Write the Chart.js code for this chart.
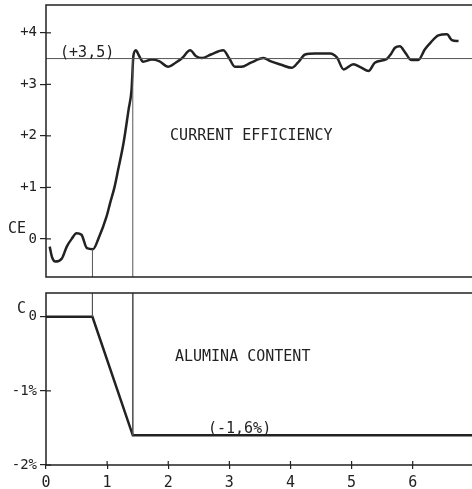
<!DOCTYPE html>
<html>
<head>
<meta charset="utf-8">
<script src="https://cdn.jsdelivr.net/npm/chart.js@4.4.1/dist/chart.umd.min.js"></script>
<style>
  html, body { margin: 0; padding: 0; background: #fff; overflow: hidden; }
  #wrap { position: relative; width: 472px; height: 489px; }
  #top { position: absolute; left: 0; top: 0; }
  #bottom { position: absolute; left: 0; top: 280px; }
</style>
</head>
<body>
<div id="wrap">
  <canvas id="top" width="472" height="280"></canvas>
  <canvas id="bottom" width="472" height="209"></canvas>
</div>
<script>
// current efficiency curve
const ceX = [0.06, 0.1, 0.15, 0.26, 0.34, 0.42, 0.5, 0.58, 0.67, 0.77,
  0.86, 0.99, 1.05, 1.12, 1.18, 1.27, 1.35, 1.40, 1.43, 1.47,
  1.52, 1.59, 1.73, 1.85, 2.0, 2.12, 2.22, 2.36, 2.45, 2.55,
  2.7, 2.9, 3.0, 3.09, 3.2, 3.35, 3.56, 3.67, 3.85, 4.02,
  4.12, 4.24, 4.4, 4.65, 4.76, 4.87, 5.03, 5.15, 5.28, 5.38,
  5.57, 5.65, 5.71, 5.79, 5.88, 5.98, 6.09, 6.2, 6.3, 6.42,
  6.56, 6.64, 6.75];
const ceY = [-0.15, -0.36, -0.44, -0.38, -0.15, 0.0, 0.11, 0.08, -0.18, -0.2,
  0.01, 0.43, 0.7, 1.0, 1.34, 1.87, 2.5, 2.9, 3.55, 3.66,
  3.56, 3.44, 3.48, 3.45, 3.34, 3.42, 3.5, 3.66, 3.55, 3.51,
  3.58, 3.66, 3.5, 3.34, 3.34, 3.42, 3.51, 3.45, 3.38, 3.32,
  3.42, 3.58, 3.6, 3.6, 3.52, 3.29, 3.39, 3.33, 3.26, 3.42,
  3.49, 3.6, 3.71, 3.74, 3.61, 3.47, 3.47, 3.68, 3.82, 3.95,
  3.97, 3.86, 3.84];

// alumina content curve
const alX = [0, 0.76, 1.42, 6.97];
const alY = [0, 0, -1.6, -1.6];

// reference levels and markers
const ceLevel = 3.5;
const markX = [0.76, 1.42];
const ceMarkTop = [-0.2, 3.5];   // where top-panel markers stop
const alMarkBottom = [0, -1.6];  // where bottom-panel markers stop

const xMin = 0, xMax = 6.97;
const xTicks = [0, 1, 2, 3, 4, 5, 6];
const ceRange = [-0.74, 4.54];
const ceTicks = [0, 1, 2, 3, 4];
const ceTickLabels = ['0', '+1', '+2', '+3', '+4'];
const alRange = [-2, 0.32];
const alTicks = [0, -1, -2];
const alTickLabels = ['0', '-1%', '-2%'];

const FONT = "'DejaVu Sans Mono', 'Liberation Mono', monospace";
const INK = '#222';

const pts = (xs, ys) => xs.map((x, i) => ({ x: x, y: ys[i] }));

function noPad(s) {
    s.paddingTop = 0; s.paddingBottom = 0;
    s.paddingLeft = 0; s.paddingRight = 0;
}

function panelPlugin(opts) {
    return {
        id: 'panel',
        afterDraw(chart) {
            const ctx = chart.ctx;
            const a = chart.chartArea;
            const xs = chart.scales.x, ys = chart.scales.y;
            ctx.save();
            ctx.strokeStyle = INK;
            ctx.lineWidth = 1.5;
            // frame: top, left, bottom
            ctx.beginPath();
            ctx.moveTo(a.right, a.top); ctx.lineTo(a.left, a.top);
            ctx.lineTo(a.left, a.bottom); ctx.lineTo(a.right, a.bottom);
            ctx.stroke();
            // inner tick marks
            ctx.lineWidth = 1.2;
            ys.ticks.forEach(t => {
                const y = ys.getPixelForValue(t.value);
                ctx.beginPath(); ctx.moveTo(a.left, y); ctx.lineTo(a.left + 5, y); ctx.stroke();
            });
            if (opts.xTicksInside) {
                xs.ticks.forEach(t => {
                    if (t.value === 0) return;
                    const x = xs.getPixelForValue(t.value);
                    ctx.beginPath(); ctx.moveTo(x, a.bottom); ctx.lineTo(x, a.bottom - 4); ctx.stroke();
                });
            }
            // axis name next to the zero tick
            ctx.fillStyle = INK;
            ctx.font = '15px ' + FONT;
            ctx.textAlign = 'right';
            ctx.textBaseline = 'alphabetic';
            ctx.fillText(opts.axisName, 26, ys.getPixelForValue(0) - opts.nameLift);
            // annotations
            opts.notes.forEach(n => {
                ctx.textAlign = 'left';
                ctx.textBaseline = n.base;
                ctx.fillText(n.text, xs.getPixelForValue(n.x), ys.getPixelForValue(n.y) + n.dy);
            });
            ctx.restore();
        }
    };
}

function yScale(range, ticks, labels) {
    return {
        min: range[0],
        max: range[1],
        afterFit: s => { s.width = 46; noPad(s); },
        afterBuildTicks: s => { s.ticks = ticks.map(v => ({ value: v })); },
        ticks: {
            color: INK,
            padding: 3,
            font: { family: FONT, size: 14 },
            callback: v => labels[ticks.indexOf(v)]
        },
        grid: { drawOnChartArea: false, drawTicks: true, tickLength: 6, color: INK, lineWidth: 1.2 },
        border: { display: false }
    };
}

const thin = { borderColor: '#555', borderWidth: 1, pointRadius: 0, tension: 0, fill: false };

new Chart(document.getElementById('top'), {
    type: 'line',
    data: {
        datasets: [
            Object.assign({ data: pts([xMin, xMax], [ceLevel, ceLevel]) }, thin),
            Object.assign({ data: pts([markX[0], markX[0]], [ceRange[0], ceMarkTop[0]]) }, thin),
            Object.assign({ data: pts([markX[1], markX[1]], [ceRange[0], ceMarkTop[1]]) }, thin),
            {
                data: pts(ceX, ceY),
                borderColor: INK,
                borderWidth: 2.5,
                pointRadius: 0,
                cubicInterpolationMode: 'monotone',
                fill: false
            }
        ]
    },
    options: {
        responsive: false,
        animation: false,
        layout: { padding: { top: 5, bottom: 3, left: 0, right: 0 } },
        plugins: { legend: { display: false }, tooltip: { enabled: false } },
        scales: {
            x: { type: 'linear', min: xMin, max: xMax, display: false },
            y: yScale(ceRange, ceTicks, ceTickLabels)
        }
    },
    plugins: [panelPlugin({
        axisName: 'CE',
        nameLift: 6,
        xTicksInside: false,
        notes: [
            { text: '(+3,5)', x: 0.23, y: 3.5, dy: -2, base: 'alphabetic' },
            { text: 'CURRENT EFFICIENCY', x: 2.03, y: 2.0, dy: 0, base: 'middle' }
        ]
    })]
});

new Chart(document.getElementById('bottom'), {
    type: 'line',
    data: {
        datasets: [
            Object.assign({ data: pts([markX[0], markX[0]], [alRange[1], alMarkBottom[0]]) }, thin),
            Object.assign({ data: pts([markX[1], markX[1]], [alRange[1], alMarkBottom[1]]) }, thin),
            {
                data: pts(alX, alY),
                borderColor: INK,
                borderWidth: 2.5,
                pointRadius: 0,
                tension: 0,
                fill: false
            }
        ]
    },
    options: {
        responsive: false,
        animation: false,
        layout: { padding: { top: 13, bottom: 0, left: 0, right: 0 } },
        plugins: { legend: { display: false }, tooltip: { enabled: false } },
        scales: {
            x: {
                type: 'linear',
                min: xMin,
                max: xMax,
                afterFit: s => { s.height = 24; noPad(s); },
                afterBuildTicks: s => { s.ticks = xTicks.map(v => ({ value: v })); },
                ticks: {
                    color: INK,
                    padding: 5,
                    maxRotation: 0,
                    font: { family: FONT, size: 15 },
                    callback: v => String(v)
                },
                grid: { drawOnChartArea: false, drawTicks: true, tickLength: 4, color: INK, lineWidth: 1.2 },
                border: { display: false }
            },
            y: yScale(alRange, alTicks, alTickLabels)
        }
    },
    plugins: [panelPlugin({
        axisName: 'C',
        nameLift: 4,
        xTicksInside: true,
        notes: [
            { text: 'ALUMINA CONTENT', x: 2.11, y: -0.54, dy: 0, base: 'middle' },
            { text: '(-1,6%)', x: 2.65, y: -1.6, dy: -2, base: 'alphabetic' }
        ]
    })]
});
</script>
</body>
</html>
